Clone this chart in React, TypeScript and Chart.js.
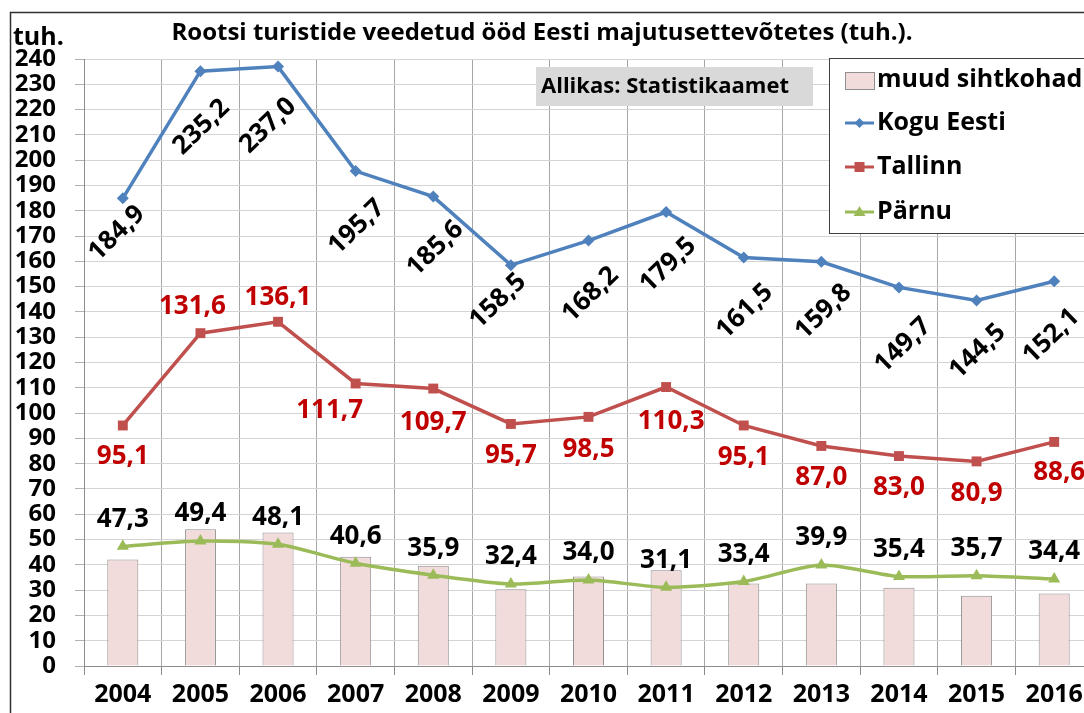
import React, { useEffect, useRef } from "react";
import { Chart, registerables } from "chart.js";

Chart.register(...registerables);

const years = ["2004", "2005", "2006", "2007", "2008", "2009", "2010", "2011", "2012", "2013", "2014", "2015", "2016"];
const muudSihtkohad = [42.1, 54.1, 52.8, 43.2, 39.6, 30.3, 35.4, 37.9, 32.6, 32.6, 30.9, 27.8, 28.7];
const koguEesti = [184.9, 235.2, 237.0, 195.7, 185.6, 158.5, 168.2, 179.5, 161.5, 159.8, 149.7, 144.5, 152.1];
const tallinn = [95.1, 131.6, 136.1, 111.7, 109.7, 95.7, 98.5, 110.3, 95.1, 87.0, 83.0, 80.9, 88.6];
const parnu = [47.3, 49.4, 48.1, 40.6, 35.9, 32.4, 34.0, 31.1, 33.4, 39.9, 35.4, 35.7, 34.4];

const titleText = "Rootsi turistide veedetud ööd Eesti majutusettevõtetes (tuh.).";
const unitText = "tuh.";
const sourceText = "Allikas: Statistikaamet";
const seriesNames = ["muud sihtkohad", "Kogu Eesti", "Tallinn", "Pärnu"];

// label placement offsets (style only, relative to library-computed points)
const koguLabelDx = [-6, 1, -10, 1, 2, -13, 2, 2, 1, 2, 4, 1, -3];
const koguLabelDy = [35, 56, 59, 56, 52, 36, 54, 53, 54, 50, 58, 51, 55];
const tallinnLabelDx = [0, -8, 0, -26, 0, 0, 0, 5, 0, 0, 0, 0, 5];
const tallinnLabelDy = [31, -27, -24, 27, 34, 32, 33, 35, 32, 32, 32, 32, 31];
const parnuLabelDy = -27;

const FONT = "'Open Sans', Lato, 'DejaVu Sans', sans-serif";
const BLUE = "#4f81bd";
const RED = "#c0504d";
const GREEN = "#9bbb59";
const BAR_FILL = "#f2dcdb";
const BAR_BORDER = "#8f8f8f";

const fmt = (v: number) => v.toFixed(1).replace(".", ",");

export default function App() {
  const ref = useRef<HTMLCanvasElement>(null);

  useEffect(() => {
    const canvas = ref.current!;

    const decor = {
      id: "decor",
      beforeDraw(chart: any) {
        const ctx = chart.ctx;
        ctx.save();
        ctx.fillStyle = "#ffffff";
        ctx.fillRect(0, 0, chart.width, chart.height);
        ctx.strokeStyle = "#303030";
        ctx.lineWidth = 1.5;
        ctx.beginPath();
        ctx.moveTo(10.5, chart.height + 5);
        ctx.lineTo(10.5, 12.5);
        ctx.lineTo(chart.width + 5, 12.5);
        ctx.stroke();
        ctx.restore();
      },
      afterDatasetsDraw(chart: any) {
        const ctx = chart.ctx;
        const drawSet = (idx: number, values: number[], color: string, dx: (i: number) => number, dy: (i: number) => number, rot: number) => {
          const meta = chart.getDatasetMeta(idx);
          meta.data.forEach((el: any, i: number) => {
            ctx.save();
            ctx.translate(el.x + dx(i), el.y + dy(i));
            ctx.rotate(rot);
            ctx.fillStyle = color;
            ctx.font = `bold 26px ${FONT}`;
            ctx.textAlign = "center";
            ctx.textBaseline = "middle";
            ctx.fillText(fmt(values[i]), 0, 0);
            ctx.restore();
          });
        };
        drawSet(1, koguEesti, "#000000", (i) => koguLabelDx[i], (i) => koguLabelDy[i], (-44 * Math.PI) / 180);
        drawSet(2, tallinn, "#c00000", (i) => tallinnLabelDx[i], (i) => tallinnLabelDy[i], 0);
        drawSet(3, parnu, "#000000", () => 0, () => parnuLabelDy, 0);
      },
      afterDraw(chart: any) {
        const ctx = chart.ctx;
        ctx.save();
        // title
        ctx.fillStyle = "#000";
        ctx.font = `bold 24px ${FONT}`;
        ctx.textAlign = "center";
        ctx.textBaseline = "middle";
        ctx.fillText(titleText, 542, 33);
        // unit
        ctx.font = `bold 25px ${FONT}`;
        ctx.textAlign = "left";
        ctx.fillText(unitText, 13, 38);
        // source box
        ctx.fillStyle = "#d9d9d9";
        ctx.fillRect(536, 67, 277, 39);
        ctx.fillStyle = "#000";
        ctx.font = `bold 22px ${FONT}`;
        ctx.fillText(sourceText, 541, 87);
        // legend
        ctx.fillStyle = "#fff";
        ctx.fillRect(829, 58, 300, 175);
        ctx.strokeStyle = "#404040";
        ctx.lineWidth = 1;
        ctx.strokeRect(829.5, 58.5, 300, 175);
        const ys = [80, 123, 167, 212];
        // bar swatch
        ctx.fillStyle = BAR_FILL;
        ctx.fillRect(845, 72, 29, 17);
        ctx.strokeStyle = BAR_BORDER;
        ctx.strokeRect(845.5, 72.5, 29, 17);
        const lineSym = (y: number, color: string, shape: string) => {
          ctx.strokeStyle = color;
          ctx.lineWidth = 3;
          ctx.beginPath();
          ctx.moveTo(845, y);
          ctx.lineTo(874, y);
          ctx.stroke();
          ctx.fillStyle = color;
          ctx.beginPath();
          const cx = 859.5;
          if (shape === "diamond") {
            ctx.moveTo(cx - 5, y);
            ctx.lineTo(cx, y - 5);
            ctx.lineTo(cx + 5, y);
            ctx.lineTo(cx, y + 5);
          } else if (shape === "square") {
            ctx.rect(cx - 5, y - 5, 10, 10);
          } else {
            ctx.moveTo(cx, y - 6);
            ctx.lineTo(cx + 6, y + 4);
            ctx.lineTo(cx - 6, y + 4);
          }
          ctx.closePath();
          ctx.fill();
        };
        lineSym(ys[1], BLUE, "diamond");
        lineSym(ys[2], RED, "square");
        lineSym(ys[3], GREEN, "triangle");
        ctx.fillStyle = "#000";
        ctx.font = `bold 25px ${FONT}`;
        ctx.textAlign = "left";
        ctx.textBaseline = "middle";
        seriesNames.forEach((n, i) => ctx.fillText(n, 877, ys[i]));
        ctx.restore();
      },
    };

    const chart = new Chart(canvas, {
      type: "bar",
      data: {
        labels: years,
        datasets: [
          {
            type: "bar",
            label: seriesNames[0],
            data: muudSihtkohad,
            backgroundColor: BAR_FILL,
            borderColor: BAR_BORDER,
            borderWidth: 1,
            barPercentage: 0.4,
            categoryPercentage: 1,
            order: 10,
          },
          {
            type: "line",
            label: seriesNames[1],
            data: koguEesti,
            borderColor: BLUE,
            backgroundColor: BLUE,
            borderWidth: 3.5,
            pointStyle: "rectRot",
            pointRadius: 6,
            pointBorderWidth: 0,
            tension: 0,
            order: 1,
          },
          {
            type: "line",
            label: seriesNames[2],
            data: tallinn,
            borderColor: RED,
            backgroundColor: RED,
            borderWidth: 3.5,
            pointStyle: "rect",
            pointRadius: 7,
            pointBorderWidth: 0,
            tension: 0,
            order: 2,
          },
          {
            type: "line",
            label: seriesNames[3],
            data: parnu,
            borderColor: GREEN,
            backgroundColor: GREEN,
            borderWidth: 3.5,
            pointStyle: "triangle",
            pointRadius: 7,
            pointBorderWidth: 0,
            tension: 0.25,
            order: 3,
          },
        ],
      },
      options: {
        responsive: false,
        animation: false,
        layout: { padding: { left: 0, top: 59, right: 2, bottom: 0 } },
        plugins: { legend: { display: false }, tooltip: { enabled: false }, title: { display: false } },
        scales: {
          x: {
            offset: true,
            grid: { offset: true, color: "#a6a6a6", tickLength: 9, tickColor: "#8c8c8c" },
            border: { color: "#8c8c8c" },
            ticks: { color: "#000", font: { family: FONT, size: 25, weight: "bold" }, padding: 5, maxRotation: 0, autoSkip: false },
            afterFit: (s: any) => { s.height = 47; },
          },
          y: {
            min: 0,
            max: 240,
            grid: { color: "#d4d4d4", tickLength: 9, tickColor: "#b0b0b0" },
            border: { color: "#8c8c8c" },
            ticks: { stepSize: 10, color: "#000", font: { family: FONT, size: 24, weight: "bold" }, padding: 19, autoSkip: false },
            afterFit: (s: any) => { s.width = 84; },
          },
        },
      },
      plugins: [decor],
    } as any);

    return () => chart.destroy();
  }, []);

  return (
    <div style={{ position: "fixed", left: 0, top: 0, width: 1084, height: 713, overflow: "hidden", background: "#fff" }}>
      <canvas ref={ref} width={1100} height={713} style={{ display: "block" }} />
    </div>
  );
}
